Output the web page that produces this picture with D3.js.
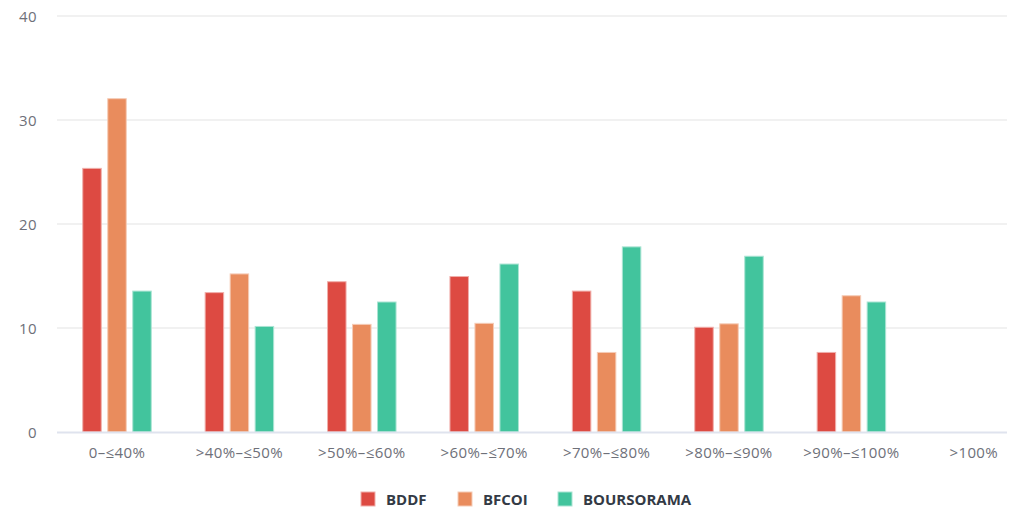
<!DOCTYPE html>
<html>
<head>
<meta charset="utf-8">
<script src="https://cdn.jsdelivr.net/npm/d3@7"></script>
<style>
  html, body { margin: 0; padding: 0; background: #ffffff; }
  svg { display: block; }
</style>
</head>
<body>
<svg id="chart" width="1017" height="513"></svg>
<script>
// LTV buckets along the x axis
const categories = [
  "0–≤40%", ">40%–≤50%", ">50%–≤60%", ">60%–≤70%",
  ">70%–≤80%", ">80%–≤90%", ">90%–≤100%", ">100%"
];

// Share of loans per bucket, one array per entity (null = no bar)
const seriesNames = ["BDDF", "BFCOI", "BOURSORAMA"];
const bddf       = [25.35, 13.4, 14.45, 14.95, 13.55, 10.07, 7.65, null];
const bfcoi      = [32.05, 15.2, 10.35, 10.45, 7.65, 10.4, 13.1, null];
const boursorama = [13.55, 10.15, 12.5, 16.15, 17.8, 16.9, 12.5, null];

const seriesColors = ["#dd4a42", "#e98c5d", "#42c49d"];
const yTicks = [0, 10, 20, 30, 40];

const seriesValues = [bddf, bfcoi, boursorama];

const svg = d3.select("#chart");

const gridLeft = 57, gridRight = 1007;
const y = d3.scaleLinear().domain([0, 40]).range([432, 16]);

const x0 = d3.scaleBand()
  .domain(categories)
  .range([55.8, 55.8 + 122.4 * categories.length])
  .padding(0);

const groupWidth = 68.5;
const x1 = d3.scaleBand()
  .domain(seriesNames)
  .range([0, groupWidth])
  .paddingInner(0.26)
  .paddingOuter(0);

const labelFont = "'Open Sans', 'Noto Sans', sans-serif";

// horizontal grid lines
svg.append("g")
  .selectAll("line")
  .data(yTicks.filter(t => t > 0))
  .join("line")
  .attr("x1", gridLeft).attr("x2", gridRight)
  .attr("y1", d => y(d)).attr("y2", d => y(d))
  .attr("stroke", "#ececec")
  .attr("stroke-width", 1.6);

// y axis labels
const yAxis = d3.axisLeft(y).tickValues(yTicks).tickSize(0).tickPadding(0);
const yg = svg.append("g").attr("transform", "translate(37,0)").call(yAxis);
yg.select(".domain").remove();
yg.selectAll("text")
  .attr("font-family", labelFont)
  .attr("font-size", 15)
  .attr("letter-spacing", 0.4)
  .attr("fill", "#6e7079")
  .attr("dy", "0.35em");

// bars
const rows = categories.map((c, i) => ({
  cat: c,
  vals: seriesNames.map((s, k) => ({ series: s, k, v: seriesValues[k][i] }))
}));

const groups = svg.append("g")
  .selectAll("g")
  .data(rows)
  .join("g")
  .attr("transform", d => `translate(${x0(d.cat) + x0.bandwidth() / 2 - groupWidth / 2},0)`);

groups.selectAll("rect")
  .data(d => d.vals.filter(v => v.v != null))
  .join("rect")
  .attr("x", d => x1(d.series))
  .attr("width", x1.bandwidth())
  .attr("y", d => y(d.v))
  .attr("height", d => y(0) - y(d.v))
  .attr("fill", d => seriesColors[d.k])
  .attr("stroke", d => d3.interpolateRgb(seriesColors[d.k], "#ffffff")(0.55))
  .attr("stroke-width", 1);

// x axis
const xAxis = d3.axisBottom(x0).tickSize(0).tickPadding(0);
const xg = svg.append("g").attr("transform", `translate(0,${y(0)})`).call(xAxis);
xg.select(".domain").remove();
svg.append("line")
  .attr("x1", gridLeft).attr("x2", gridRight)
  .attr("y1", y(0) + 0.5).attr("y2", y(0) + 0.5)
  .attr("stroke", "#dfe3ee")
  .attr("stroke-width", 2);
xg.selectAll("text")
  .attr("font-family", labelFont)
  .attr("font-size", 15)
  .attr("letter-spacing", 0.4)
  .attr("fill", "#6e7079")
  .attr("dy", 0)
  .attr("y", 26);

// legend
const legendX = [361, 458, 558];
const legend = svg.append("g")
  .selectAll("g")
  .data(seriesNames)
  .join("g")
  .attr("transform", (d, i) => `translate(${legendX[i]},492)`);
legend.append("rect")
  .attr("width", 14).attr("height", 14)
  .attr("fill", (d, i) => seriesColors[i])
  .attr("stroke", (d, i) => d3.interpolateRgb(seriesColors[i], "#ffffff")(0.55))
  .attr("stroke-width", 1);
legend.append("text")
  .attr("x", 25).attr("y", 13)
  .attr("font-family", labelFont)
  .attr("font-weight", "bold")
  .attr("font-size", 15)
  .attr("fill", "#333a45")
  .text(d => d);
</script>
</body>
</html>
